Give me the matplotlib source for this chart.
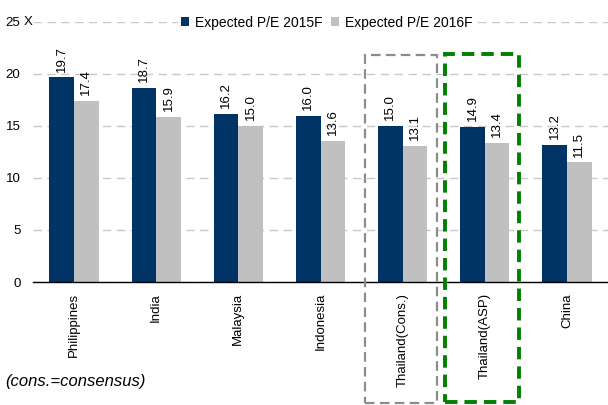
import numpy as np
import matplotlib
matplotlib.use("Agg")
import matplotlib.pyplot as plt
from matplotlib.patches import Rectangle

plt.rcParams['font.family'] = ['Liberation Sans', 'DejaVu Sans']

# data
negara = ['Philippines', 'India', 'Malaysia', 'Indonesia',
          'Thailand(Cons.)', 'Thailand(ASP)', 'China']
pe_2015 = [19.7, 18.7, 16.2, 16.0, 15.0, 14.9, 13.2]
pe_2016 = [17.4, 15.9, 15.0, 13.6, 13.1, 13.4, 11.5]
label_2015 = 'Expected P/E 2015F'
label_2016 = 'Expected P/E 2016F'
yticks = [0, 5, 10, 15, 20, 25]

warna_gelap = '#003366'
warna_terang = '#c0c0c0'

fig = plt.figure(figsize=(6.08, 4.05), dpi=100)
ax = fig.add_axes([0.0543, 0.3037, 0.9457, 0.642])

x = np.arange(len(negara))
lebar = 0.3
b1 = ax.bar(x - lebar / 2, pe_2015, lebar, color=warna_gelap, label=label_2015, zorder=3)
b2 = ax.bar(x + lebar / 2, pe_2016, lebar, color=warna_terang, label=label_2016, zorder=3)

for bars, vals in ((b1, pe_2015), (b2, pe_2016)):
    for r, v in zip(bars, vals):
        ax.annotate(f'{v:.1f}', (r.get_x() + r.get_width() / 2, r.get_height()),
                    xytext=(0, 4), textcoords='offset points', rotation=90,
                    ha='center', va='bottom', fontsize=9.5)

ax.set_xlim(-0.5, len(negara) - 0.5)
ax.set_ylim(0, 25)
ax.set_yticks(yticks)
ax.set_xticks(x)
ax.set_xticklabels(negara, rotation=90, fontsize=9.5)
ax.tick_params(axis='both', length=0, labelsize=9.5)
ax.tick_params(axis='x', pad=8)
ax.tick_params(axis='y', pad=9)
ax.yaxis.grid(True, color='#c8c8c8', linestyle=(0, (6, 4)), linewidth=1, zorder=0)
for s in ['top', 'right', 'left']:
    ax.spines[s].set_visible(False)
ax.spines['bottom'].set_color('black')
ax.spines['bottom'].set_linewidth(1)
ax.spines['bottom'].set_zorder(4)

# satuan X di sebelah 25
ax.text(-0.61, 25, 'X', ha='left', va='center', fontsize=9.5, clip_on=False)

# kotak putus-putus
ax.add_patch(Rectangle((3.542, -11.63), 0.876, 33.46, fill=False,
                       edgecolor='#8c8c8c', linewidth=1.6, linestyle=(0, (4.3, 2.4)),
                       clip_on=False, zorder=5))
ax.add_patch(Rectangle((4.516, -11.54), 0.901, 33.46, fill=False,
                       edgecolor='#008000', linewidth=2.8, linestyle=(0, (3.2, 1.8)),
                       clip_on=False, zorder=5))

leg = ax.legend(loc='upper left', bbox_to_anchor=(0.252, 1.035), ncol=2, frameon=True,
                fontsize=10, handlelength=0.6, handleheight=0.6, handletextpad=0.45,
                columnspacing=0.55, borderaxespad=0, borderpad=0.2)
leg.get_frame().set_facecolor('white')
leg.get_frame().set_edgecolor('white')

fig.text(0.008, 0.057, '(cons.=consensus)', fontsize=12, style='italic',
         ha='left', va='center')

fig.savefig('out.png', dpi=100)
